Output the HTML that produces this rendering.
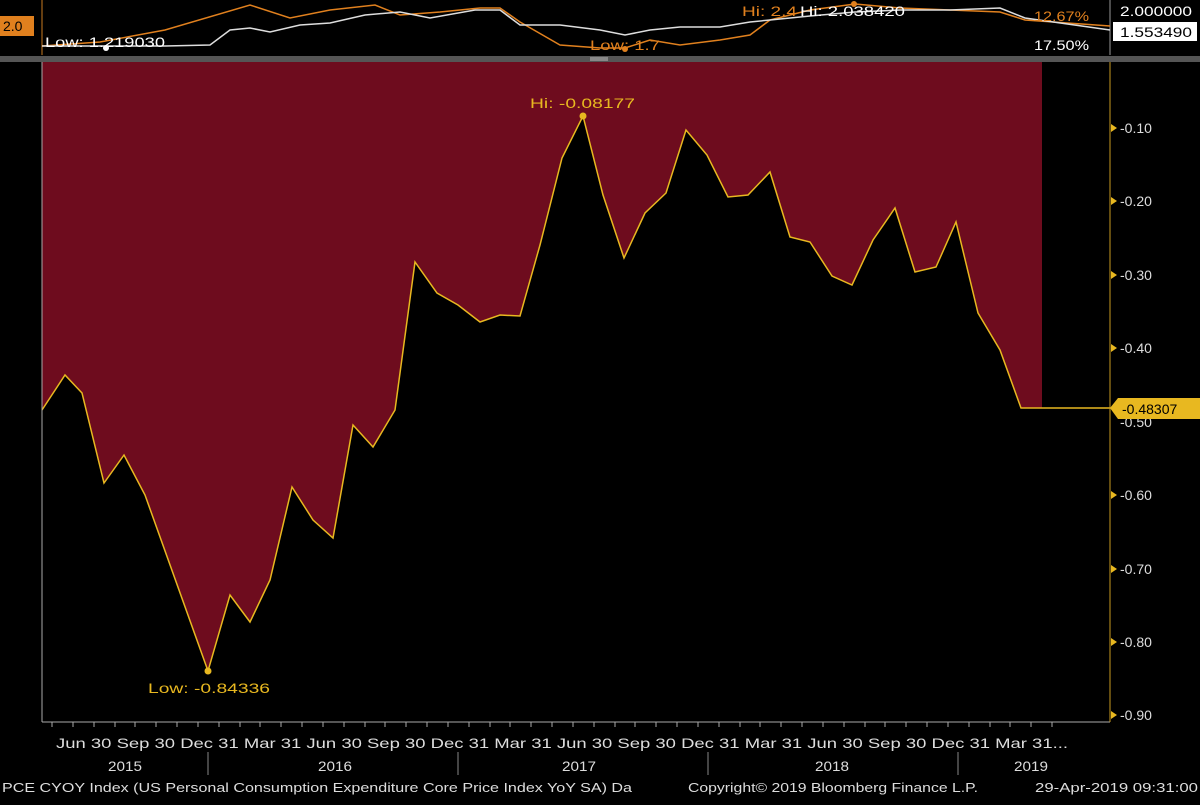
<!DOCTYPE html>
<html><head><meta charset="utf-8"><style>
body{margin:0;background:#000;width:1200px;height:800px;overflow:hidden;font-family:"Liberation Sans",sans-serif}
</style></head><body>
<svg width="1200" height="800" xmlns="http://www.w3.org/2000/svg" font-family="Liberation Sans, sans-serif">
<rect width="1200" height="800" fill="#000"/>
<line x1="42" y1="0" x2="42" y2="55" stroke="#c87a20" stroke-width="1"/>
<line x1="1110" y1="0" x2="1110" y2="55" stroke="#999" stroke-width="1"/>
<polyline fill="none" stroke="#e0801e" stroke-width="1.5" points="42,46 100,42 165,30 250,5 290,18 330,10 375,5 400,15 440,12 480,8 500,8 520,22 560,45 600,48 625,48 650,40 680,45 720,40 750,35 770,20 810,10 855,4 900,8 950,10 1000,12 1025,20 1110,26"/>
<polyline fill="none" stroke="#ddd" stroke-width="1.5" points="42,46 106,46 165,46 210,45 230,30 250,28 270,32 300,25 330,23 365,15 400,12 430,18 475,10 500,10 520,25 560,25 600,30 625,35 650,30 680,27 720,27 750,22 770,20 810,16 855,12 900,10 950,10 1000,8 1025,18 1110,30"/>
<circle cx="106" cy="48" r="3" fill="#fff"/>
<circle cx="625" cy="49" r="3" fill="#e0801e"/>
<circle cx="854" cy="4" r="3" fill="#e0801e"/>
<rect x="0" y="16" width="34" height="20" fill="#e0801e"/>
<text x="3" y="31" font-size="14" fill="#000">2.0</text>
<text x="45" y="47" font-size="14" fill="#fff" textLength="120" lengthAdjust="spacingAndGlyphs">Low: 1.219030</text>
<text x="590" y="50" font-size="14" fill="#e0801e" textLength="70" lengthAdjust="spacingAndGlyphs">Low: 1.7</text>
<text x="742" y="16" font-size="14" fill="#e0801e" textLength="55" lengthAdjust="spacingAndGlyphs">Hi: 2.4</text>
<text x="800" y="16" font-size="14" fill="#fff" textLength="105" lengthAdjust="spacingAndGlyphs">Hi: 2.038420</text>
<text x="1034" y="21" font-size="14" fill="#e0801e" textLength="55" lengthAdjust="spacingAndGlyphs">12.67%</text>
<text x="1034" y="50" font-size="14" fill="#fff" textLength="55" lengthAdjust="spacingAndGlyphs">17.50%</text>
<text x="1120" y="16" font-size="14" fill="#fff" textLength="72" lengthAdjust="spacingAndGlyphs">2.000000</text>
<rect x="1113" y="22" width="84" height="19" fill="#fff"/>
<text x="1120" y="37" font-size="14" fill="#000" textLength="72" lengthAdjust="spacingAndGlyphs">1.553490</text>
<rect x="0" y="56" width="1200" height="6" fill="#555"/>
<rect x="590" y="57" width="18" height="4" fill="#888"/>
<polygon fill="#6e0c1e" points="42,62 42,410 65,375 82,393 104,483 124,455 145,495 208,671 230,595 250,622 270,580 292,487 313,520 333,538 353,425 373,447 395,410 415,262 437,293 458,305 480,322 500,315 520,316 540,245 562,158 583,116 603,195 624,258 645,213 666,193 686,130 707,155 728,197 748,195 770,172 790,237 810,242 832,276 852,285 873,240 895,208 915,272 936,267 956,222 978,313 1000,350 1021,408 1042,408 1042,62"/>
<polyline fill="none" stroke="#e8b820" stroke-width="1.5" points="42,410 65,375 82,393 104,483 124,455 145,495 208,671 230,595 250,622 270,580 292,487 313,520 333,538 353,425 373,447 395,410 415,262 437,293 458,305 480,322 500,315 520,316 540,245 562,158 583,116 603,195 624,258 645,213 666,193 686,130 707,155 728,197 748,195 770,172 790,237 810,242 832,276 852,285 873,240 895,208 915,272 936,267 956,222 978,313 1000,350 1021,408 1042,408 1110,408"/>
<circle cx="583" cy="116" r="3.5" fill="#e8b820"/>
<circle cx="208" cy="671" r="3.5" fill="#e8b820"/>
<text x="530" y="108" font-size="14" fill="#e8b820" textLength="105" lengthAdjust="spacingAndGlyphs">Hi: -0.08177</text>
<text x="148" y="693" font-size="14" fill="#e8b820" textLength="122" lengthAdjust="spacingAndGlyphs">Low: -0.84336</text>
<line x1="42" y1="62" x2="42" y2="722" stroke="#aaa"/>
<line x1="42" y1="722" x2="1110" y2="722" stroke="#aaa"/>
<line x1="1110" y1="62" x2="1110" y2="722" stroke="#c89a20"/>
<g font-size="14" fill="#ddd">
<text x="1120" y="133">-0.10</text>
<text x="1120" y="206">-0.20</text>
<text x="1120" y="280">-0.30</text>
<text x="1120" y="353">-0.40</text>
<text x="1120" y="427">-0.50</text>
<text x="1120" y="500">-0.60</text>
<text x="1120" y="574">-0.70</text>
<text x="1120" y="647">-0.80</text>
<text x="1120" y="720">-0.90</text>
</g>
<g fill="#e8b820">
<polygon points="1111,124 1117,128 1111,132"/><polygon points="1111,197 1117,201 1111,205"/><polygon points="1111,271 1117,275 1111,279"/><polygon points="1111,344 1117,348 1111,352"/><polygon points="1111,491 1117,495 1111,499"/><polygon points="1111,565 1117,569 1111,573"/><polygon points="1111,638 1117,642 1111,646"/><polygon points="1111,711 1117,715 1111,719"/>
</g>
<polygon points="1110,408 1118,398 1200,398 1200,419 1118,419" fill="#e8b820"/>
<text x="1122" y="414" font-size="14" fill="#000">-0.48307</text>
<g font-size="14" fill="#ddd">
<text x="56" y="748" textLength="1012" lengthAdjust="spacingAndGlyphs">Jun 30 Sep 30 Dec 31 Mar 31 Jun 30 Sep 30 Dec 31 Mar 31 Jun 30 Sep 30 Dec 31 Mar 31 Jun 30 Sep 30 Dec 31 Mar 31...</text>
<text x="108" y="771" textLength="34" lengthAdjust="spacingAndGlyphs">2015</text>
<text x="318" y="771" textLength="34" lengthAdjust="spacingAndGlyphs">2016</text>
<text x="562" y="771" textLength="34" lengthAdjust="spacingAndGlyphs">2017</text>
<text x="815" y="771" textLength="34" lengthAdjust="spacingAndGlyphs">2018</text>
<text x="1014" y="771" textLength="34" lengthAdjust="spacingAndGlyphs">2019</text>
<text x="2" y="792" font-size="13" textLength="630" lengthAdjust="spacingAndGlyphs">PCE CYOY Index (US Personal Consumption Expenditure Core Price Index YoY SA)  Da</text>
<text x="688" y="792" font-size="13" textLength="290" lengthAdjust="spacingAndGlyphs">Copyright© 2019 Bloomberg Finance L.P.</text>
<text x="1035" y="792" font-size="13" textLength="163" lengthAdjust="spacingAndGlyphs">29-Apr-2019 09:31:00</text>
</g>
<g stroke="#888"><line x1="208" y1="752" x2="208" y2="775"/><line x1="458" y1="752" x2="458" y2="775"/><line x1="708" y1="752" x2="708" y2="775"/><line x1="958" y1="752" x2="958" y2="775"/></g>
<path stroke="#aaa" d="M52,722v5M73,722v5M94,722v5M115,722v5M135,722v5M156,722v5M177,722v5M198,722v5M219,722v5M240,722v5M260,722v5M281,722v5M302,722v5M323,722v5M344,722v5M365,722v5M385,722v5M406,722v5M427,722v5M448,722v5M469,722v5M490,722v5M510,722v5M531,722v5M552,722v5M573,722v5M594,722v5M615,722v5M635,722v5M656,722v5M677,722v5M698,722v5M719,722v5M740,722v5M760,722v5M781,722v5M802,722v5M823,722v5M844,722v5M865,722v5M885,722v5M906,722v5M927,722v5M948,722v5M969,722v5M990,722v5M1010,722v5M1031,722v5M1052,722v5"/>
</svg>
</body></html>
